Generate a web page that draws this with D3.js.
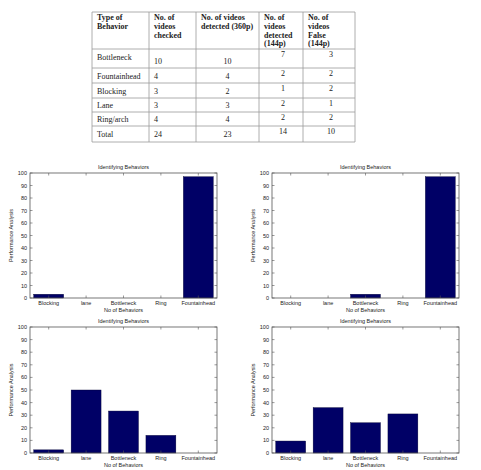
<!DOCTYPE html>
<html>
<head>
<meta charset="utf-8">
<script src="https://cdn.jsdelivr.net/npm/d3@7"></script>
<style>
  body { margin: 0; background: #fff; }
  svg { display: block; }
</style>
</head>
<body>
<div id="fig"></div>
<script>
// table data
const tableHeader = [
  ["Type of", "Behavior"],
  ["No. of", "videos", "checked"],
  ["No. of videos", "detected (360p)"],
  ["No. of", "videos", "detected", "(144p)"],
  ["No. of", "videos", "False", "(144p)"]
];
const behaviorRows = ["Bottleneck", "Fountainhead", "Blocking", "Lane", "Ring/arch", "Total"];
const videosChecked = [10, 4, 3, 3, 4, 24];
const detected360 = [10, 4, 2, 3, 4, 23];
const detected144 = [7, 2, 1, 2, 2, 14];
const false144 = [3, 2, 2, 1, 2, 10];

// bar chart data
const behaviors = ["Blocking", "lane", "Bottleneck", "Ring", "Fountainhead"];
const chartA = [3, 0, 0, 0, 97];
const chartB = [0, 0, 3, 0, 97];
const chartC = [2.5, 50, 33.3, 14, 0];
const chartD = [9.5, 36, 24, 31, 0];
const yTicks = d3.range(0, 101, 10);

const W = 481, H = 470;
const svg = d3.select("#fig").append("svg").attr("width", W).attr("height", H);

// ---- table ----
const colX = [92, 149, 196, 259, 303, 355];
const rowY = [12, 49, 68, 83, 98, 112, 126, 142];
const tbl = svg.append("g").attr("font-family", "Liberation Serif, Times New Roman, serif").attr("font-size", 8).attr("fill", "#222");

colX.forEach(x => tbl.append("line").attr("x1", x).attr("x2", x).attr("y1", rowY[0]).attr("y2", rowY[rowY.length - 1]).attr("stroke", "#999").attr("stroke-width", 0.8));
rowY.forEach(y => tbl.append("line").attr("x1", colX[0]).attr("x2", colX[colX.length - 1]).attr("y1", y).attr("y2", y).attr("stroke", "#999").attr("stroke-width", 0.8));

tableHeader.forEach((lines, c) => {
  lines.forEach((t, k) => {
    tbl.append("text").attr("x", colX[c] + 5).attr("y", rowY[0] + 8 + k * 8.8)
      .attr("font-weight", "bold").text(t);
  });
});

const cols = [videosChecked, detected360, detected144, false144];
behaviorRows.forEach((name, r) => {
  const y0 = rowY[r + 1], y1 = rowY[r + 2];
  const mid = (y0 + y1) / 2;
  tbl.append("text").attr("x", colX[0] + 5).attr("y", mid + (r === 0 ? 1 : 3)).text(name);
  cols.forEach((vals, c) => {
    const col = c + 1;
    let x, anchor, y;
    if (col === 1) { x = colX[1] + 5; anchor = "start"; y = mid + 3; }
    else { x = (colX[col] + colX[col + 1]) / 2 + (col === 2 ? 0 : 2); anchor = "middle"; y = col >= 3 ? y0 + 8 : mid + 3; }
    if (r === 0 && col <= 2) y = mid + 5;
    tbl.append("text").attr("x", x).attr("y", y).attr("text-anchor", anchor).text(vals[r]);
  });
});

// ---- bar charts ----
function drawChart(values, box) {
  const g = svg.append("g").attr("font-family", "Liberation Sans, Arial, sans-serif").attr("font-size", 5.5).attr("fill", "#222");
  const x = d3.scaleBand().domain(behaviors).range([box.left, box.right]).paddingInner(0.2).paddingOuter(0.1);
  const y = d3.scaleLinear().domain([0, 100]).range([box.bottom, box.top]);

  g.selectAll("rect.bar").data(values).enter().append("rect")
    .attr("class", "bar")
    .attr("x", (d, i) => x(behaviors[i]))
    .attr("width", x.bandwidth())
    .attr("y", d => y(d))
    .attr("height", d => box.bottom - y(d))
    .attr("fill", "#000066")
    .attr("stroke", "#000033").attr("stroke-width", 0.4);

  // box
  g.append("rect").attr("x", box.left).attr("y", box.top)
    .attr("width", box.right - box.left).attr("height", box.bottom - box.top)
    .attr("fill", "none").attr("stroke", "#555").attr("stroke-width", 0.8);

  const tk = 2.5;
  yTicks.forEach(t => {
    g.append("line").attr("x1", box.left).attr("x2", box.left + tk).attr("y1", y(t)).attr("y2", y(t)).attr("stroke", "#555").attr("stroke-width", 0.6);
    g.append("line").attr("x1", box.right).attr("x2", box.right - tk).attr("y1", y(t)).attr("y2", y(t)).attr("stroke", "#555").attr("stroke-width", 0.6);
    g.append("text").attr("x", box.left - 3).attr("y", y(t) + 2).attr("text-anchor", "end").text(t);
  });
  behaviors.forEach(b => {
    const cx = x(b) + x.bandwidth() / 2;
    g.append("line").attr("x1", cx).attr("x2", cx).attr("y1", box.bottom).attr("y2", box.bottom - tk).attr("stroke", "#555").attr("stroke-width", 0.6);
    g.append("line").attr("x1", cx).attr("x2", cx).attr("y1", box.top).attr("y2", box.top + tk).attr("stroke", "#555").attr("stroke-width", 0.6);
    g.append("text").attr("x", cx).attr("y", box.bottom + 7).attr("text-anchor", "middle").text(b);
  });

  const cxm = (box.left + box.right) / 2;
  g.append("text").attr("x", cxm).attr("y", box.top - 4).attr("text-anchor", "middle").text("Identifying Behaviors");
  g.append("text").attr("x", cxm).attr("y", box.bottom + 13.5).attr("text-anchor", "middle").text("No of Behaviors");
  const ym = (box.top + box.bottom) / 2;
  g.append("text").attr("transform", `translate(${box.left - 17},${ym}) rotate(-90)`).attr("text-anchor", "middle").text("Performance Analysis");
}

drawChart(chartA, {left: 30, right: 217, top: 173, bottom: 298});
drawChart(chartB, {left: 272, right: 459, top: 173, bottom: 298});
drawChart(chartC, {left: 30, right: 217, top: 327, bottom: 453});
drawChart(chartD, {left: 272, right: 459, top: 327, bottom: 453});
</script>
</body>
</html>
